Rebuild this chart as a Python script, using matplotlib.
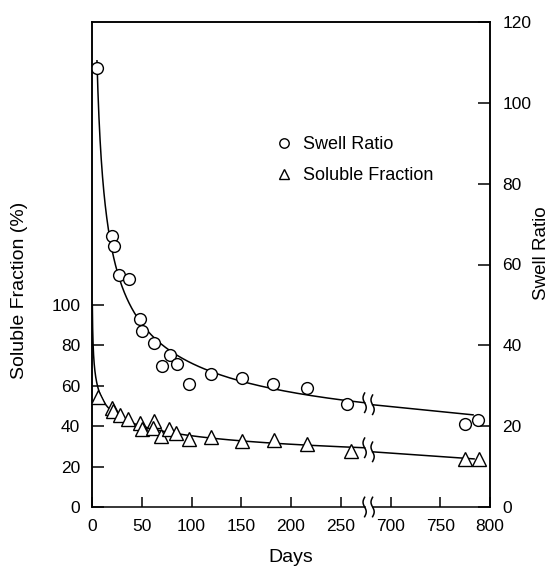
import numpy as np
import matplotlib
matplotlib.use('Agg')
import matplotlib.pyplot as plt

plt.rcParams['font.family'] = ['Liberation Sans', 'DejaVu Sans']

# ---------------- data ----------------
swell_days = [5, 20, 22, 27, 37, 48, 50, 62, 70, 78, 85, 97, 120, 151, 182, 216, 256, 775, 788]
swell_ratio = [108.5, 67, 64.5, 57.5, 56.5, 46.5, 43.5, 40.5, 35, 37.5, 35.5, 30.5,
               33, 32, 30.5, 29.5, 25.5, 20.5, 21.5]

sol_days = [6, 20, 21, 28, 36, 48, 50, 62, 61, 69, 77, 84, 97, 120, 151, 183, 216, 260, 775, 789]
sol_frac = [54.5, 49, 47.5, 45.5, 43.5, 41.5, 38.5, 42.5, 39, 35, 38.5, 36.5, 33.5,
            34.5, 32.5, 33, 31, 27.5, 24, 24]

# trend line after the axis break, as drawn in the picture (start, end)
swell_trend_days_late = [682, 783]
swell_trend_late = [25.3, 22.8]
sol_trend_days_late = [682, 784]
sol_trend_late = [27.3, 23.8]

x_tick_days = [0, 50, 100, 150, 200, 250, 700, 750, 800]
x_tick_labels = ['0', '50', '100', '150', '200', '250', '700', '750', '800']
left_ticks = [0, 20, 40, 60, 80, 100]
right_ticks = [0, 20, 40, 60, 80, 100, 120]

# broken x axis: days 0-278 shown as is, days 678-800 shifted left by 400
GAP = 400
def to_u(d):
    d = np.asarray(d, float)
    return np.where(d <= 450, d, d - GAP)

# ---------------- fits (early part) ----------------
sd = np.array(swell_days, float); sr = np.array(swell_ratio, float)
best = None
for b in np.linspace(-1.5, -0.05, 291):
    A = np.column_stack([sd ** b, np.ones_like(sd)])
    coef = np.linalg.lstsq(A, sr, rcond=None)[0]
    r = np.sum((A @ coef - sr) ** 2)
    if best is None or r < best[0]:
        best = (r, b, coef)
_, sr_b, (sr_a, sr_c) = best
def sr_fit(d):
    return sr_a * d ** sr_b + sr_c

fd = np.array(sol_days, float); ff = np.array(sol_frac, float)
sf_b, sf_lna = np.polyfit(np.log(fd), np.log(ff), 1)
def sf_fit(d):
    return np.exp(sf_lna) * d ** sf_b
sf_start = (100 / np.exp(sf_lna)) ** (1 / sf_b)

# ---------------- figure ----------------
fig = plt.figure(figsize=(5.54, 5.68), dpi=100)
ax = fig.add_axes([92 / 554, 1 - 507 / 568, 398 / 554, 485 / 568])
ax2 = ax.twinx()

ax.set_xlim(0, 400)
ax.set_ylim(0, 240)
ax2.set_ylim(0, 120)

LW = 1.1
B1, B2 = 274, 282   # break positions (axis units)

# trend curves
d1 = np.geomspace(swell_days[0], B1, 300)
ax2.plot(to_u(d1), sr_fit(d1), color='black', lw=LW, zorder=2)
ax2.plot(to_u(swell_trend_days_late), swell_trend_late, color='black', lw=LW, zorder=2)

e1 = np.geomspace(sf_start, B1, 400)
ax.plot(to_u(e1), sf_fit(e1), color='black', lw=LW, zorder=2)
ax.plot(to_u(sol_trend_days_late), sol_trend_late, color='black', lw=LW, zorder=2)

# break marks
def wiggle(a, u0, y0, h, w):
    s = np.linspace(0, 1, 40)
    a.plot(u0 + w * np.sin(2 * np.pi * s), y0 + h * (s - 0.5) * 2,
           color='black', lw=LW, clip_on=False, zorder=3)

wiggle(ax2, B1, sr_fit(B1), 2.4, 1.6)
wiggle(ax2, B2, swell_trend_late[0], 2.4, 1.6)
wiggle(ax, B1, sf_fit(B1), 4.8, 1.6)
wiggle(ax, B2, sol_trend_late[0], 4.8, 1.6)
wiggle(ax, B1, 0, 4.8, 1.6)
wiggle(ax, B2, 0, 4.8, 1.6)

# markers
circ, = ax2.plot(to_u(swell_days), swell_ratio, linestyle='none', marker='o', ms=8.5,
                 mfc='white', mec='black', mew=1.0, zorder=4, label='Swell Ratio')
tri, = ax.plot(to_u(sol_days), sol_frac, linestyle='none', marker='^', ms=9.5,
               mfc='white', mec='black', mew=1.0, zorder=4, label='Soluble Fraction')
ax.set_zorder(2)
ax2.set_zorder(1)
ax.patch.set_visible(False)

# spines
for a in (ax, ax2):
    a.spines['bottom'].set_visible(False)
    for s in ('left', 'right', 'top'):
        a.spines[s].set_linewidth(LW)
ax.plot([0, B1], [0, 0], color='black', lw=LW, clip_on=False, zorder=3)
ax.plot([B2, 400], [0, 0], color='black', lw=LW, clip_on=False, zorder=3)

# ticks
ax.set_xticks(to_u(x_tick_days))
ax.set_xticklabels(x_tick_labels)
ax.set_yticks(left_ticks)
ax2.set_yticks(right_ticks)
ax.tick_params(axis='x', direction='in', length=7, width=LW, pad=8.5, labelsize=12.5)
ax.tick_params(axis='y', direction='in', length=8.5, width=LW, pad=8.5, labelsize=12.5)
ax2.tick_params(axis='y', direction='in', length=8.5, width=LW, pad=9, labelsize=12.5)

# labels
fig.text(20 / 554, 1 - 290 / 568, 'Soluble Fraction (%)', rotation=90,
         ha='center', va='center', fontsize=14)
fig.text(542 / 554, 1 - 253 / 568, 'Swell Ratio', rotation=90,
         ha='center', va='center', fontsize=13.5)
fig.text(291 / 554, 1 - 557 / 568, 'Days', ha='center', va='center', fontsize=14)

# legend
leg = ax.legend(handles=[circ, tri], loc='upper left', bbox_to_anchor=(0.469, 0.764),
                frameon=False, fontsize=13, handlelength=0.6, handletextpad=0.74,
                labelspacing=0.75, borderpad=0, borderaxespad=0, markerscale=0.8)

fig.savefig('out.png', dpi=100, facecolor='white')
